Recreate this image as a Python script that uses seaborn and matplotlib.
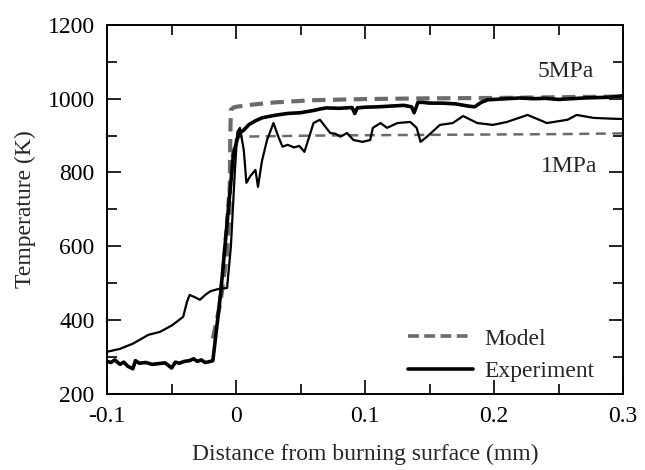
import numpy as np
import pandas as pd
import matplotlib
matplotlib.use("Agg")
import matplotlib.pyplot as plt
import seaborn as sns
from matplotlib.lines import Line2D

# ---- data ----
exp5_x = [-0.1, -0.097, -0.094, -0.09, -0.087, -0.084, -0.08, -0.078, -0.075, -0.07, -0.065, -0.06,
          -0.055, -0.05, -0.047, -0.044, -0.04, -0.036, -0.033, -0.03, -0.027, -0.024, -0.021, -0.018,
          -0.012, -0.006, -0.002, 0.002, 0.006, 0.01, 0.015, 0.02, 0.03, 0.04, 0.05, 0.06, 0.065, 0.07,
          0.08, 0.09, 0.092, 0.094, 0.1, 0.11, 0.12, 0.13, 0.136, 0.138, 0.141, 0.145, 0.15, 0.16, 0.17,
          0.18, 0.185, 0.19, 0.195, 0.2, 0.21, 0.22, 0.23, 0.24, 0.25, 0.26, 0.27, 0.28, 0.29, 0.3]
exp5_T = [288, 285, 292, 280, 286, 275, 268, 290, 283, 285, 280, 282, 284, 270, 286, 283, 288, 290,
          295, 288, 292, 285, 287, 290, 470, 700, 850, 905, 915, 930, 940, 948, 955, 960, 962, 968,
          972, 975, 974, 976, 960, 975, 977, 978, 980, 982, 978, 962, 990, 990, 988, 988, 986, 980,
          978, 990, 997, 998, 1000, 1002, 1000, 1001, 998, 1000, 1002, 1003, 1004, 1008]

exp1_x = [-0.1, -0.09, -0.08, -0.075, -0.068, -0.059, -0.05, -0.045, -0.041, -0.038, -0.036, -0.032,
          -0.028, -0.024, -0.02, -0.014, -0.007, -0.004, -0.001, 0.001, 0.003, 0.006, 0.008, 0.011,
          0.015, 0.017, 0.02, 0.024, 0.029, 0.033, 0.036, 0.04, 0.045, 0.049, 0.053, 0.057, 0.06,
          0.065, 0.069, 0.073, 0.077, 0.081, 0.086, 0.091, 0.098, 0.104, 0.106, 0.112, 0.117, 0.125,
          0.135, 0.14, 0.143, 0.148, 0.158, 0.168, 0.176, 0.187, 0.199, 0.21, 0.226, 0.241, 0.257,
          0.264, 0.277, 0.29, 0.3]
exp1_T = [314, 322, 336, 346, 360, 368, 385, 398, 409, 450, 468, 462, 455, 468, 478, 484, 487, 600,
          800, 910, 921, 860, 772, 790, 807, 761, 830, 888, 934, 895, 870, 875, 868, 872, 856, 900,
          934, 943, 925, 907, 905, 897, 907, 888, 883, 888, 921, 934, 921, 934, 937, 921, 883, 897,
          929, 934, 953, 934, 929, 937, 956, 934, 943, 956, 948, 946, 945]

model5_x = [-0.018, -0.012, -0.007, -0.005, -0.0045, -0.004, -0.002, 0.0, 0.01, 0.03, 0.06, 0.1,
            0.15, 0.2, 0.25, 0.3]
model5_T = [350, 450, 580, 700, 900, 970, 976, 978, 983, 990, 996, 999, 1001, 1002, 1004, 1006]

model1_x = [-0.016, -0.01, -0.006, -0.003, 0.0, 0.003, 0.02, 0.06, 0.1, 0.15, 0.2, 0.25, 0.3]
model1_T = [350, 560, 740, 850, 890, 897, 898, 900, 901, 902, 903, 904, 906]

x_ticks = [-0.1, 0, 0.1, 0.2, 0.3]
x_ticklabels = ["-0.1", "0", "0.1", "0.2", "0.3"]
y_ticks = [200, 400, 600, 800, 1000, 1200]

# ---- plot ----
sns.set_theme(style="ticks")
plt.rcParams["font.family"] = ["Liberation Serif", "DejaVu Serif"]

fig = plt.figure(figsize=(6.45, 4.7), dpi=100)
ax = fig.add_axes([0.166, 0.162, 0.800, 0.785])

gray = "#6b6b6b"
FS = 17
sns.lineplot(x=model5_x, y=model5_T, ax=ax, color=gray, lw=3.0, sort=False,
             linestyle=(0, (3.2, 1.8)))
sns.lineplot(x=model1_x, y=model1_T, ax=ax, color=gray, lw=1.8, sort=False,
             linestyle=(0, (4.0, 2.6)))
sns.lineplot(x=exp1_x, y=exp1_T, ax=ax, color="black", lw=1.6, sort=False)
sns.lineplot(x=exp5_x, y=exp5_T, ax=ax, color="black", lw=2.6, sort=False)

ax.set_xlim(-0.1, 0.3)
ax.set_ylim(200, 1200)
ax.set_xticks(x_ticks)
ax.set_xticklabels(x_ticklabels)
ax.set_yticks(y_ticks)
ax.set_xticks(np.arange(-0.05, 0.3, 0.1), minor=True)
ax.set_yticks(np.arange(300, 1200, 200), minor=True)

ax.tick_params(which="both", direction="in", top=True, right=True, labelsize=FS,
               width=1.2, colors="black")
ax.tick_params(which="major", length=10, pad=9)
ax.tick_params(which="minor", length=7)
for s in ax.spines.values():
    s.set_linewidth(1.4)
    s.set_color("black")

ax.set_xlabel("Distance from burning surface (mm)", fontsize=FS, labelpad=12)
ax.set_ylabel("Temperature (K)", fontsize=FS, labelpad=8)

ax.text(0.277, 1073, "5MPa", fontsize=FS, ha="right", va="center")
ax.text(0.280, 815, "1MPa", fontsize=FS, ha="right", va="center")

handles = [Line2D([0], [0], color=gray, lw=2.6, linestyle=(0, (3.0, 1.5))),
           Line2D([0], [0], color="black", lw=2.6)]
ax.legend(handles, ["Model", "Experiment"], loc="lower right", frameon=False, fontsize=FS,
          handlelength=2.75, handletextpad=0.45, labelspacing=0.45,
          bbox_to_anchor=(0.985, -0.025))

fig.savefig("out.png", dpi=100)
